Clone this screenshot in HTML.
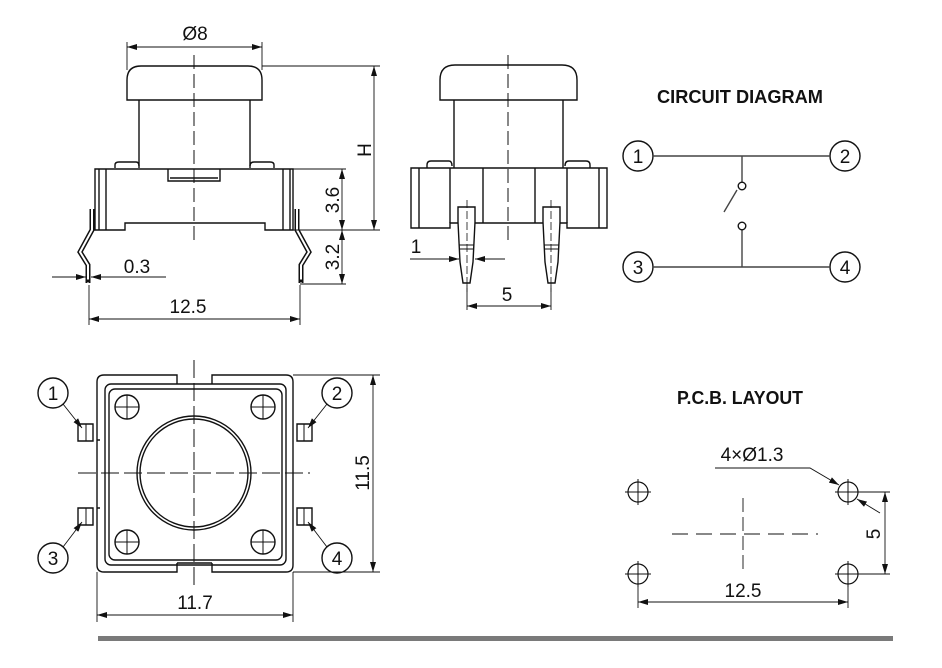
<!DOCTYPE html>
<html><head><meta charset="utf-8"><style>
html,body{margin:0;padding:0;background:#fff}
svg{display:block}
.t{font-family:"Liberation Sans Narrow","Liberation Sans",sans-serif;font-size:19px;fill:#111}
.h{font-family:"Liberation Sans Narrow","Liberation Sans",sans-serif;font-weight:bold;font-size:18px;fill:#111}
</style></head><body>
<svg width="942" height="668" viewBox="0 0 942 668" xmlns="http://www.w3.org/2000/svg">
<defs>
<marker id="a" viewBox="0 0 10 6" refX="10" refY="3" markerWidth="10" markerHeight="6" orient="auto-start-reverse" markerUnits="userSpaceOnUse"><path d="M0,0L10,3L0,6z" fill="#111"/></marker>
</defs>
<g fill="none" stroke="#111" stroke-width="1.4">
<!-- VIEW 1 -->
<path d="M127,100V80Q127,66 141,66H248Q262,66 262,80V100Z" fill="#fff"/>
<path d="M139,100V168M250,100V168"/>
<path d="M115,168V165Q115,162 119,162H136Q139,162 139,166M250,166Q250,162 254,162H270Q274,162 274,165V168"/>
<path d="M95,169H293V230H265V223H125V230H95Z"/>
<path d="M99,169V230M106,169V230M283,169V230M290,169V230"/>
<path d="M168,169V181H220V169M170,178H218"/>
<path d="M194,55V242" stroke-dasharray="14,5" stroke-width="1"/>
<g stroke-width="5"><path d="M92,209V230L80,252L88,265V283"/><path d="M297,209V230L309,252L301,265V283"/></g>
<g stroke="#fff" stroke-width="2"><path d="M92,209V230L80,252L88,265V283"/><path d="M297,209V230L309,252L301,265V283"/></g>
<path d="M86,281H90M299,281H303" stroke-width="3"/>
<g stroke-width="0.9">
<path d="M127,42V70M262,42V70M262,66H380M293,230H380M293,169H346M300,284H346"/>
<path d="M127,47H262" marker-start="url(#a)" marker-end="url(#a)"/>
<path d="M374,66V230" marker-start="url(#a)" marker-end="url(#a)"/>
<path d="M342,169V230" marker-start="url(#a)" marker-end="url(#a)"/>
<path d="M342,230V284" marker-start="url(#a)" marker-end="url(#a)"/>
<path d="M52,277H86" marker-end="url(#a)"/><path d="M166,277H91" marker-end="url(#a)"/>
<path d="M89,285V325M300,285V325"/>
<path d="M89,319H300" marker-start="url(#a)" marker-end="url(#a)"/>
</g>
<!-- VIEW 2 -->
<path d="M440,100V80Q440,65 455,65H562Q577,65 577,80V100Z" fill="#fff"/>
<path d="M454,100V168M563,100V168"/>
<path d="M427,168V165Q427,161 431,161H449Q452,161 452,166M565,166Q565,161 569,161H586Q590,161 590,165V168"/>
<path d="M411,168H607V228H567V223H450V228H411Z"/>
<path d="M419,168V228M599,168V228M450,168V223M483,168V223M535,168V223M567,168V223"/>
<path d="M458,222V207H475V222L473,262L470,283H463L460,262Z" fill="#fff"/>
<path d="M543,222V207H560V222L558,262L555,283H548L545,262Z" fill="#fff"/>
<path d="M459,245H474M459,249H474M544,245H559M544,249H559" stroke-width="1"/>
<path d="M467,200V292M551,200V292" stroke-dasharray="8,3" stroke-width="0.8"/>
<path d="M508,55V245" stroke-dasharray="14,5" stroke-width="1"/>
<g stroke-width="0.9">
<path d="M410,259H459" marker-end="url(#a)"/><path d="M505,259H475" marker-end="url(#a)"/>
<path d="M467,285V310M551,285V310"/>
<path d="M467,306H551" marker-start="url(#a)" marker-end="url(#a)"/>
</g>
<!-- CIRCUIT -->
<circle cx="638" cy="156" r="15"/><circle cx="845" cy="156" r="15"/>
<circle cx="638" cy="267" r="15"/><circle cx="845" cy="267" r="15"/>
<path d="M653,156H830M653,267H830M742,156V182M742,230V267M737,190L724,212" stroke="#444"/>
<circle cx="742" cy="186" r="3.8"/><circle cx="742" cy="226" r="3.8"/>
<!-- BOTTOM VIEW -->
<path d="M177,384V375H104Q97,375 97,382V565Q97,572 104,572H177V563"/>
<path d="M212,384V375H286Q293,375 293,382V565Q293,572 286,572H212V563"/>
<rect x="105" y="384" width="181" height="181" rx="6"/>
<rect x="109" y="389" width="173" height="171" rx="6"/>
<path d="M177,563H212M97,440H100M97,508H100"/>
<circle cx="194" cy="473" r="57"/><circle cx="194" cy="473" r="54"/>
<g>
<circle cx="127" cy="407" r="12"/><circle cx="263" cy="407" r="12"/>
<circle cx="127" cy="542" r="12"/><circle cx="263" cy="542" r="12"/>
<path d="M115,407H139M127,395V419M251,407H275M263,395V419M115,542H139M127,530V554M251,542H275M263,530V554" stroke-width="1"/>
</g>
<path d="M78,424H93V441H78ZM78,508H93V525H78ZM297,424H312V441H297ZM297,508H312V525H297Z"/>
<path d="M86,424V441M86,508V525M304,424V441M304,508V525" stroke-width="1"/>
<circle cx="53" cy="393" r="15"/><circle cx="337" cy="393" r="15"/>
<circle cx="53" cy="558" r="15"/><circle cx="337" cy="558" r="15"/>
<g stroke-width="0.9">
<path d="M63,404L82,428" marker-end="url(#a)"/>
<path d="M327,404L308,428" marker-end="url(#a)"/>
<path d="M63,547L82,522" marker-end="url(#a)"/>
<path d="M327,547L308,522" marker-end="url(#a)"/>
<path d="M78,473H310M194,360V590" stroke-dasharray="18,5" stroke-width="1"/>
<path d="M293,375H380M293,572H380"/>
<path d="M373,375V572" marker-start="url(#a)" marker-end="url(#a)"/>
<path d="M97,572V622M293,572V622"/>
<path d="M97,615H293" marker-start="url(#a)" marker-end="url(#a)"/>
</g>
<!-- PCB -->
<g stroke-width="1.2">
<circle cx="638" cy="492" r="10"/><circle cx="848" cy="492" r="10"/>
<circle cx="638" cy="574" r="10"/><circle cx="848" cy="574" r="10"/>
<path d="M625,492H651M638,479V505M835,492H861M848,479V505M625,574H651M638,561V587M835,574H861M848,561V587" stroke-width="1"/>
</g>
<g stroke-width="0.9">
<path d="M672,534H818" stroke-dasharray="16,8"/>
<path d="M743,498V570" stroke-dasharray="14,5"/>
<path d="M715,468H810L839,485" marker-end="url(#a)"/>
<path d="M880,513L857,499" marker-end="url(#a)"/>
<path d="M858,492H890M858,574H890"/>
<path d="M885,492V574" marker-start="url(#a)" marker-end="url(#a)"/>
<path d="M638,584V608M848,584V608"/>
<path d="M638,602H848" marker-start="url(#a)" marker-end="url(#a)"/>
</g>
</g>
<rect x="98" y="636" width="795" height="5" fill="#7a7a7a"/>
<!-- TEXT -->
<text class="t" x="195" y="40" text-anchor="middle">Ø8</text>
<text class="t" x="137" y="273" text-anchor="middle">0.3</text>
<text class="t" x="188" y="313" text-anchor="middle">12.5</text>
<text class="t" transform="translate(371,150) rotate(-90)" text-anchor="middle">H</text>
<text class="t" transform="translate(339,200) rotate(-90)" text-anchor="middle">3.6</text>
<text class="t" transform="translate(339,257) rotate(-90)" text-anchor="middle">3.2</text>
<text class="t" x="416" y="253" text-anchor="middle">1</text>
<text class="t" x="507" y="301" text-anchor="middle">5</text>
<text class="h" x="657" y="103" textLength="166" lengthAdjust="spacingAndGlyphs">CIRCUIT DIAGRAM</text>
<g class="t" text-anchor="middle">
<text x="638" y="163">1</text><text x="845" y="163">2</text>
<text x="638" y="274">3</text><text x="845" y="274">4</text>
<text x="53" y="400">1</text><text x="337" y="400">2</text>
<text x="53" y="565">3</text><text x="337" y="565">4</text>
</g>
<text class="t" transform="translate(369,473) rotate(-90)" text-anchor="middle">11.5</text>
<text class="t" x="195" y="609" text-anchor="middle">11.7</text>
<text class="h" x="677" y="404" textLength="126" lengthAdjust="spacingAndGlyphs">P.C.B. LAYOUT</text>
<text class="t" x="752" y="461" text-anchor="middle">4×Ø1.3</text>
<text class="t" transform="translate(880,534) rotate(-90)" text-anchor="middle">5</text>
<text class="t" x="743" y="597" text-anchor="middle">12.5</text>
</svg>
</body></html>
